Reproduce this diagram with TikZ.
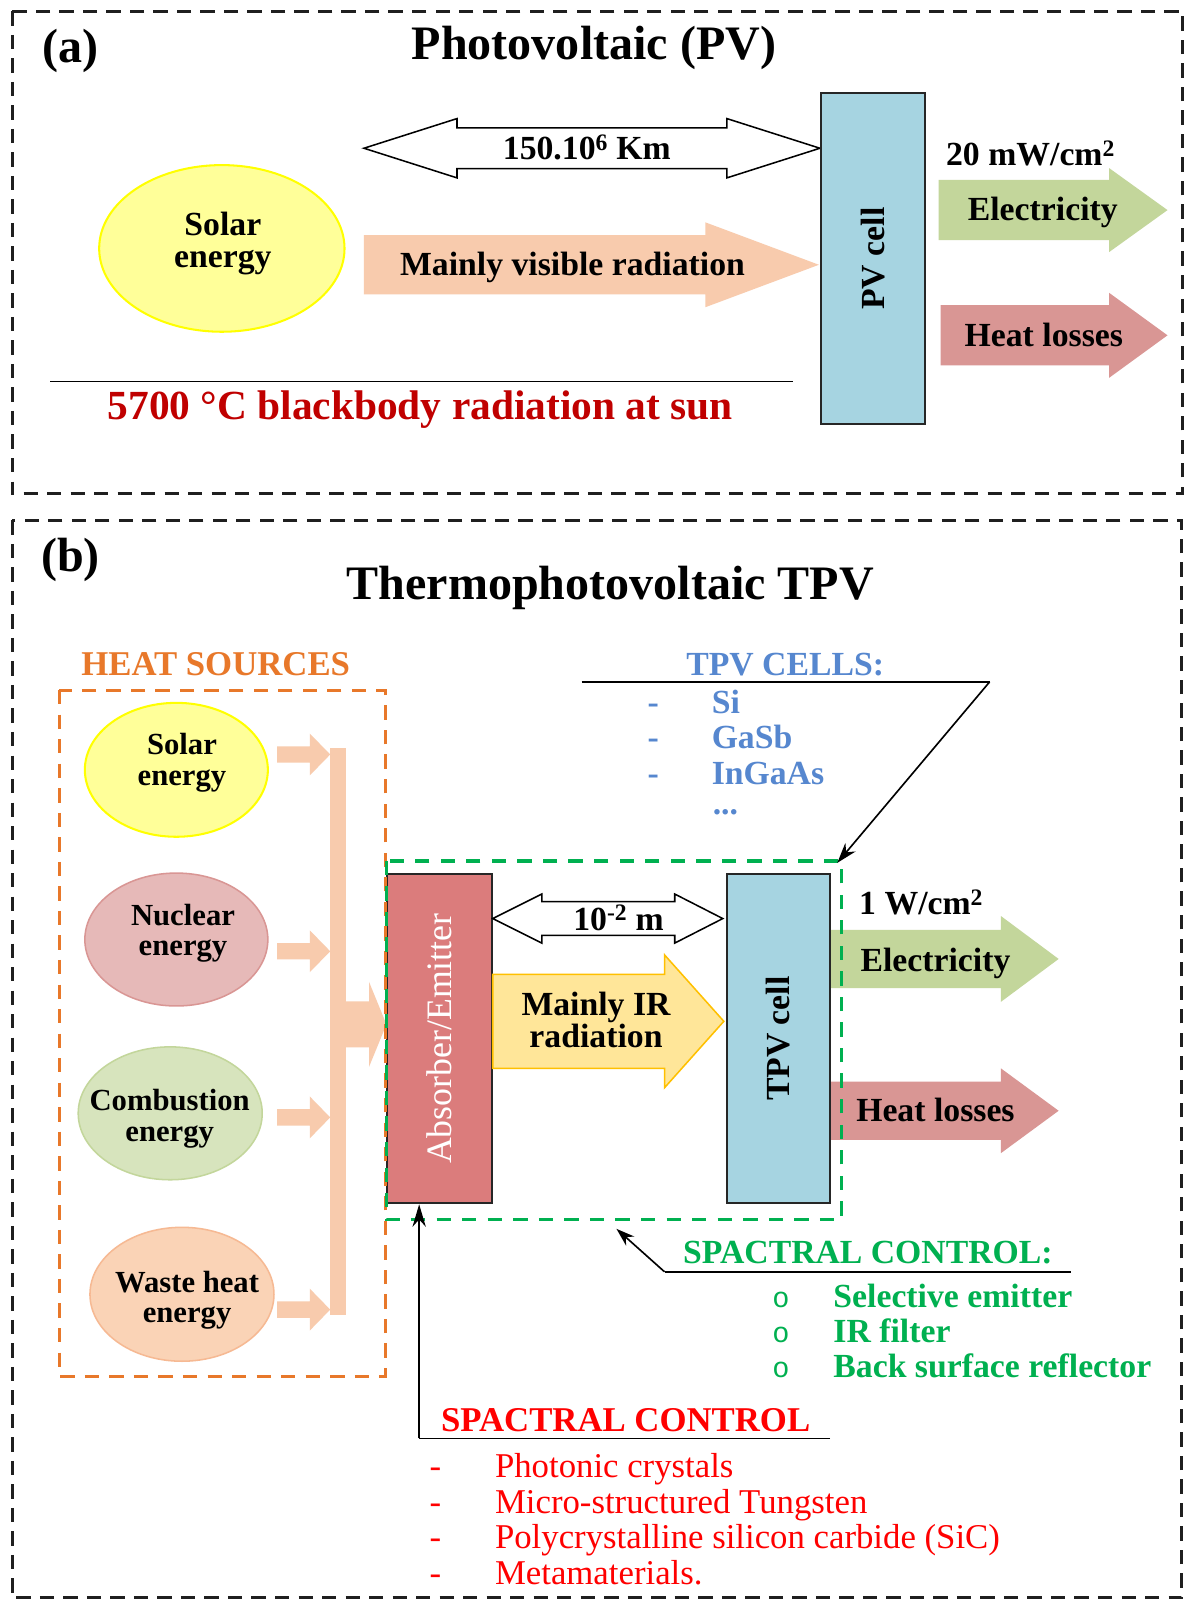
\documentclass[tikz,border=0pt]{standalone}
\usepackage{fontspec}
\setmainfont{Liberation Serif}
\newfontfamily\monofnt{Liberation Mono}
\usetikzlibrary{arrows.meta,shapes.geometric,calc}

\definecolor{peach}{HTML}{F8CBAD}
\definecolor{pvblue}{HTML}{A6D4E1}
\definecolor{elecgreen}{HTML}{C3D69B}
\definecolor{heatred}{HTML}{D99694}
\definecolor{sunfill}{HTML}{FFFF99}
\definecolor{sunline}{HTML}{FFFF00}
\definecolor{absred}{HTML}{DB7C7C}
\definecolor{irfill}{HTML}{FFE699}
\definecolor{irline}{HTML}{FFC000}
\definecolor{nucfill}{HTML}{E6B9B8}
\definecolor{combfill}{HTML}{D7E4BD}
\definecolor{wastefill}{HTML}{FAD3B6}
\definecolor{wasteline}{HTML}{F6B993}
\definecolor{orangetxt}{HTML}{E8782A}
\definecolor{bluetxt}{HTML}{5687CF}
\definecolor{greentxt}{HTML}{00B050}
\definecolor{darkred}{HTML}{C00000}
\definecolor{brightred}{HTML}{FF0000}
\definecolor{panelgray}{HTML}{1F1F1F}

% right block arrow: style, xstart, xheadbase, xtip, ycenter, shafthalf, headhalf
\newcommand{\myRArrow}[7]{\path[#1] (#2,{#5-#6}) -- (#3,{#5-#6}) -- (#3,{#5-#7}) -- (#4,#5) -- (#3,{#5+#7}) -- (#3,{#5+#6}) -- (#2,{#5+#6}) -- cycle;}
% double block arrow: style, xtipL, xbaseL, xbaseR, xtipR, ycenter, shafthalf, headhalf
\newcommand{\myDArrow}[8]{\path[#1] (#2,#6) -- (#3,{#6-#8}) -- (#3,{#6-#7}) -- (#4,{#6-#7}) -- (#4,{#6-#8}) -- (#5,#6) -- (#4,{#6+#8}) -- (#4,{#6+#7}) -- (#3,{#6+#7}) -- (#3,{#6+#8}) -- cycle;}

\tikzset{
  panel/.style={draw=panelgray, line width=3pt, dash pattern=on 14pt off 9pt},
  orangedash/.style={draw=orangetxt, line width=3pt, dash pattern=on 14pt off 10pt},
  greendash/.style={draw=greentxt, line width=3.5pt, dash pattern=on 14pt off 11pt},
  capc/.style={text height=#1, text depth=0pt},
  ttl/.style={font=\fontsize{47}{50}\selectfont\bfseries, inner sep=0pt, capc=31pt},
  lbl/.style={font=\fontsize{33}{31}\selectfont\bfseries, align=center, inner sep=0pt},
  one/.style={capc=21.8pt},
  small/.style={font=\fontsize{30}{30}\selectfont\bfseries, align=center, inner sep=0pt},
  item/.style={font=\fontsize{33}{33}\selectfont\bfseries, inner sep=0pt},
  ritem/.style={font=\fontsize{34}{34}\selectfont, inner sep=0pt, text=brightred},
  cellbox/.style={draw=black!85, line width=2pt, fill=pvblue, inner sep=0pt},
  blob/.style={ellipse, inner sep=0pt, line width=2pt},
  thin/.style={line width=1.6pt},
}

\begin{document}
\begin{tikzpicture}[x=1pt,y=-1pt]
\useasboundingbox (0,0) rectangle (1159,1568);
\fill[white] (0,0) rectangle (1159,1568);

%%%%%%%%%%%% Panel (a)
\draw[panel] (12,11) rectangle (1157,483);
\node[ttl] (alabel) at (69,46) {(a)};
\node[ttl] (atitle) at (581,43) {Photovoltaic (PV)};

\myDArrow{draw=black, fill=white, line width=1.5pt}{356}{447}{711}{802}{145}{20}{29}
\node[lbl, one] (dist) at (574,145) {150.10\textsuperscript{6} Km};

\node[blob, draw=sunline, fill=sunfill, minimum width=240pt, minimum height=163pt] (sunA) at (217,243) {};
\node[lbl] (sunAtxt) at (218,238) {Solar\\energy};

\myRArrow{fill=peach}{356}{690}{801}{259}{29}{41.5}
\node[lbl, one] (vis) at (560,259) {Mainly visible radiation};

\node[cellbox, minimum width=102pt, minimum height=324pt] (pv) at (854,253) {};
\node[lbl, one, rotate=90] (pvtxt) at (pv.center) {PV cell};

\node[lbl, one] (pwA) at (1008,151) {20 mW/cm\textsuperscript{2}};
\myRArrow{fill=elecgreen}{918}{1085}{1142}{205.5}{29.5}{41}
\node[lbl, one] (elecA) at (1020,205) {Electricity};
\myRArrow{fill=heatred}{920}{1085}{1142}{328}{29.5}{41.5}
\node[lbl, one] (heatA) at (1021,328) {Heat losses};

\coordinate (lineL) at (49,373);
\coordinate (lineR) at (776,373);
\draw[thin] (lineL) -- (lineR);
\node[font=\fontsize{40.5}{40}\selectfont\bfseries, text=darkred, inner sep=0pt, capc=26.7pt] (sun5700) at (411,397) {5700 °C blackbody radiation at sun};

%%%%%%%%%%%% Panel (b)
\draw[panel] (12,509) rectangle (1156,1563);
\node[ttl] (blabel) at (69,544) {(b)};
\node[ttl] (btitle) at (597,571) {Thermophotovoltaic TPV};
\node[lbl, font=\fontsize{34}{34}\selectfont\bfseries, text=orangetxt, capc=22.4pt] (heatsrc) at (211,650) {HEAT SOURCES};

% heat sources
\node[blob, draw=sunline, fill=sunfill, minimum width=179pt, minimum height=131pt] (sunB) at (172.5,753) {};
\node[small] (sunBtxt) at (178,746) {Solar\\energy};
\node[blob, draw=heatred, fill=nucfill, line width=1.5pt, minimum width=179pt, minimum height=130pt] (nuc) at (172.5,919) {};
\node[small] (nuctxt) at (179,913) {Nuclear\\energy};
\node[blob, draw=elecgreen, fill=combfill, line width=1.5pt, minimum width=180pt, minimum height=130pt] (comb) at (166.5,1089) {};
\node[small] (combtxt) at (166,1094) {Combustion\\energy};
\node[blob, draw=wasteline, fill=wastefill, line width=1.5pt, minimum width=180pt, minimum height=131pt] (waste) at (178,1266) {};
\node[small] (wastetxt) at (183,1272) {Waste heat\\energy};

\foreach \yy in {738,930.5,1093,1281} {\myRArrow{fill=peach}{271}{303}{323}{\yy}{8}{20.5}}
\fill[peach] (322.5,732) rectangle (338.5,1286);
\myRArrow{fill=peach}{338}{361}{378}{1002}{22.5}{41.5}

% absorber / emitter
\node[cellbox, fill=absred, minimum width=102pt, minimum height=322pt] (abs) at (430,1016) {};
\node[font=\fontsize{35}{35}\selectfont, text=white, rotate=90, inner sep=0pt, capc=23.1pt] (abstxt) at (430.5,1016) {Absorber/Emitter};

\myDArrow{draw=black, fill=white, line width=1.5pt}{482}{530}{660}{707}{898.5}{16.5}{24}
\node[lbl, one] (distB) at (605,899) {10\textsuperscript{-2} m};

\myRArrow{fill=irfill, draw=irline, line width=1.5pt}{482}{650}{708}{999}{46}{65}
\node[lbl] (irtxt) at (583,998) {Mainly IR\\radiation};

\node[cellbox, minimum width=101pt, minimum height=322pt] (tpv) at (761.5,1016) {};
\node[lbl, one, rotate=90] (tpvtxt) at (tpv.center) {TPV cell};

\node[lbl, one] (pwB) at (901,884) {1 W/cm\textsuperscript{2}};
\myRArrow{fill=elecgreen}{813}{979}{1035.5}{938}{28.5}{42}
\node[lbl, one] (elecB) at (915,939) {Electricity};
\myRArrow{fill=heatred}{813}{979}{1035.5}{1086.5}{28.5}{41.5}
\node[lbl, one] (heatB) at (915,1086) {Heat losses};

\draw[orangedash] (58,675) rectangle (377,1346);
\draw[greendash] (378,842) rectangle (823,1193);
\coordinate (gboxNE) at (819,844);
\coordinate (gboxS) at (603,1202);

% TPV cells
\node[lbl, one, text=bluetxt] (tpvcells) at (768,650) {TPV CELLS:};
\coordinate (tcL) at (569,667);
\coordinate (tcR) at (968,667);
\draw[thin] (tcL) -- (tcR);
\draw[thin, -{Stealth[length=20pt,width=13pt]}] (tcR) -- (gboxNE);
\foreach \yy/\itm in {686.5/Si, 721/GaSb, 756/InGaAs} {
  \node[item, text=bluetxt, anchor=base] at (639,{\yy+11}) {-};
  \node[item, text=bluetxt, anchor=base west] at (696,{\yy+11}) {\itm};
}
\node[item, text=bluetxt, anchor=base west] (tcdots) at (697,797) {...};

% spectral control (cell side)
\node[lbl, one, text=greentxt] (gsc) at (849,1225) {SPACTRAL CONTROL:};
\coordinate (gscL) at (650,1244);
\coordinate (gscR) at (1048,1244);
\draw[thin] (gscL) -- (gscR);
\draw[thin, -{Stealth[length=18pt,width=12pt]}] (gscL) -- (gboxS);
\foreach \yy/\itm in {1268/Selective emitter, 1302/IR filter, 1336/Back surface reflector} {
  \node[font=\monofnt\fontsize{28}{28}\selectfont, text=greentxt, inner sep=0pt, anchor=base] at (764,{\yy+11}) {o};
  \node[item, text=greentxt, anchor=base west] at (815,{\yy+11}) {\itm};
}

% spectral control (emitter side)
\node[lbl, font=\fontsize{34}{34}\selectfont\bfseries, text=brightred, capc=22.4pt] (rsc) at (612,1389) {SPACTRAL CONTROL};
\coordinate (rscL) at (410,1407);
\coordinate (rscR) at (812,1407);
\draw[thin] (rscR) -- (rscL);
\draw[thin, -{Stealth[length=22pt,width=13pt]}] (rscL) -- (rscL |- abs.south);
\foreach \yy/\itm in {1434.5/Photonic crystals, 1469/Micro-structured Tungsten, 1504/Polycrystalline silicon carbide (SiC), 1539/Metamaterials.} {
  \node[ritem, anchor=base] at (426,{\yy+11}) {-};
  \node[ritem, anchor=base west] at (484,{\yy+11}) {\itm};
}
\end{tikzpicture}
\end{document}
